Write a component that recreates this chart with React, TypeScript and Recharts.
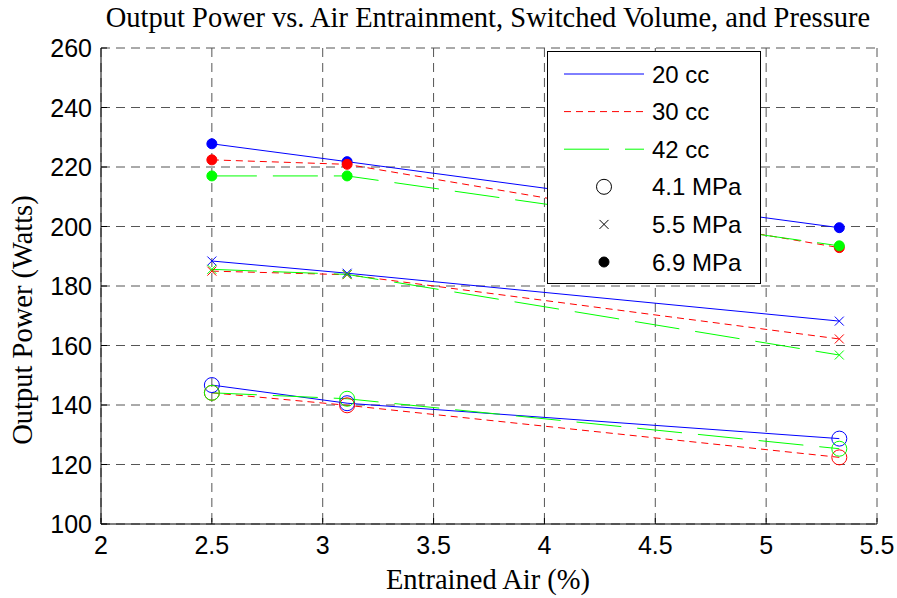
import React from 'react';
import {
  LineChart,
  Line,
  XAxis,
  YAxis,
  CartesianGrid,
  Legend
} from 'recharts';

// entrained air (%) at which all runs were measured
const airPct = [2.5, 3.11, 5.33];

// output power (W) per switched volume and pressure
const p20at41 = [146.7, 140.6, 128.7];
const p30at41 = [144.1, 139.9, 122.4];
const p42at41 = [144.1, 142.1, 125.3];
const p20at55 = [188.4, 184.3, 168.2];
const p30at55 = [185.0, 183.8, 162.2];
const p42at55 = [185.6, 183.9, 156.8];
const p20at69 = [227.8, 221.8, 199.6];
const p30at69 = [222.4, 220.9, 192.9];
const p42at69 = [217.0, 217.0, 193.5];

const xTicks = [2, 2.5, 3, 3.5, 4, 4.5, 5, 5.5];
const yTicks = [100, 120, 140, 160, 180, 200, 220, 240, 260];

const volumeLabels = ['20 cc', '30 cc', '42 cc'];
const pressureLabels = ['4.1 MPa', '5.5 MPa', '6.9 MPa'];

type MarkerKind = 'circle' | 'cross' | 'dot';

const volumeStyles = [
  { color: '#0000ff', dash: undefined as string | undefined },
  { color: '#ff0000', dash: '7 5' },
  { color: '#00ff00', dash: '45 16' },
];
const pressureMarkers: MarkerKind[] = ['circle', 'cross', 'dot'];

const seriesList = [
  { key: 'p20at41', values: p20at41, vol: 0, pres: 0 },
  { key: 'p30at41', values: p30at41, vol: 1, pres: 0 },
  { key: 'p42at41', values: p42at41, vol: 2, pres: 0 },
  { key: 'p20at55', values: p20at55, vol: 0, pres: 1 },
  { key: 'p30at55', values: p30at55, vol: 1, pres: 1 },
  { key: 'p42at55', values: p42at55, vol: 2, pres: 1 },
  { key: 'p20at69', values: p20at69, vol: 0, pres: 2 },
  { key: 'p30at69', values: p30at69, vol: 1, pres: 2 },
  { key: 'p42at69', values: p42at69, vol: 2, pres: 2 },
];

const rows = airPct.map((x, i) => {
  const row: Record<string, number> = { x };
  seriesList.forEach((s) => {
    row[s.key] = s.values[i];
  });
  return row;
});

const SANS = '"Liberation Sans", Arial, sans-serif';
const SERIF = '"Liberation Serif", "Times New Roman", serif';

const Marker = ({ kind, cx, cy, color }: { kind: MarkerKind; cx: number; cy: number; color: string }) => {
  if (kind === 'circle') {
    return <circle cx={cx} cy={cy} r={7.5} fill="none" stroke={color} strokeWidth={1} />;
  }
  if (kind === 'cross') {
    const d = 4.5;
    return (
      <g stroke={color} strokeWidth={1}>
        <line x1={cx - d} y1={cy - d} x2={cx + d} y2={cy + d} />
        <line x1={cx - d} y1={cy + d} x2={cx + d} y2={cy - d} />
      </g>
    );
  }
  return <circle cx={cx} cy={cy} r={5} fill={color} stroke={color} />;
};

const BottomTick = (props: any) => {
  const { x, y, payload } = props;
  return (
    <g>
      <line x1={x} y1={y} x2={x} y2={y - 6} stroke="#000" />
      <text x={x} y={y + 30} textAnchor="middle" fontSize={25} fontFamily={SANS} fill="#000">
        {payload.value}
      </text>
    </g>
  );
};

const TopTick = (props: any) => {
  const { x, y } = props;
  return <line x1={x} y1={y} x2={x} y2={y + 6} stroke="#000" />;
};

const LeftTick = (props: any) => {
  const { x, y, payload } = props;
  return (
    <g>
      <line x1={x} y1={y} x2={x + 6} y2={y} stroke="#000" />
      <text x={x - 9} y={y + 9} textAnchor="end" fontSize={25} fontFamily={SANS} fill="#000">
        {payload.value}
      </text>
    </g>
  );
};

const RightTick = (props: any) => {
  const { x, y } = props;
  return <line x1={x} y1={y} x2={x - 6} y2={y} stroke="#000" />;
};

const LegendBox = () => {
  const rowY = (i: number) => 22 + i * 37.6;
  return (
    <div
      style={{
        width: 212,
        height: 231,
        border: '1.5px solid #000',
        background: '#fff',
      }}
    >
      <svg width={212} height={231}>
        {volumeLabels.map((label, i) => (
          <g key={label}>
            <line
              x1={16}
              x2={96}
              y1={rowY(i)}
              y2={rowY(i)}
              stroke={volumeStyles[i].color}
              strokeDasharray={volumeStyles[i].dash}
            />
            <text x={104} y={rowY(i) + 8.5} fontSize={24} fontFamily={SANS} fill="#000">
              {label}
            </text>
          </g>
        ))}
        {pressureLabels.map((label, i) => (
          <g key={label}>
            <Marker kind={pressureMarkers[i]} cx={56} cy={rowY(i + 3)} color="#000" />
            <text x={104} y={rowY(i + 3) + 8.5} fontSize={24} fontFamily={SANS} fill="#000">
              {label}
            </text>
          </g>
        ))}
      </svg>
    </div>
  );
};

export default function App() {
  return (
    <div style={{ position: 'absolute', left: 0, top: 0, width: 897, height: 598, background: '#fff' }}>
      <div
        style={{
          position: 'absolute',
          left: 0,
          width: 976,
          top: 1,
          textAlign: 'center',
          fontFamily: SERIF,
          fontSize: 28.5,
          lineHeight: '33px',
          color: '#000',
          whiteSpace: 'nowrap',
        }}
      >
        Output Power vs. Air Entrainment, Switched Volume, and Pressure
      </div>
      <div
        style={{
          position: 'absolute',
          left: 0,
          width: 976,
          top: 563,
          textAlign: 'center',
          fontFamily: SERIF,
          fontSize: 28.5,
          lineHeight: '33px',
          color: '#000',
          whiteSpace: 'nowrap',
        }}
      >
        Entrained Air (%)
      </div>
      <div
        style={{
          position: 'absolute',
          left: 22,
          top: 320,
          transform: 'translate(-50%, -50%) rotate(-90deg)',
          fontFamily: SERIF,
          fontSize: 28.5,
          lineHeight: '33px',
          color: '#000',
          whiteSpace: 'nowrap',
        }}
      >
        Output Power (Watts)
      </div>
      <LineChart
        width={897}
        height={598}
        data={rows}
        margin={{ top: 48, right: 20, bottom: 44, left: 41 }}
        style={{ position: 'absolute', left: 0, top: 0 }}
      >
        <CartesianGrid stroke="#555" strokeDasharray="9 6" />
        <XAxis
          dataKey="x"
          type="number"
          domain={[2, 5.5]}
          ticks={xTicks}
          height={30}
          stroke="#000"
          tickSize={0}
          tickMargin={0}
          tick={<BottomTick />}
          interval={0}
        />
        <XAxis
          xAxisId="top"
          orientation="top"
          dataKey="x"
          type="number"
          domain={[2, 5.5]}
          ticks={xTicks}
          height={0}
          stroke="#000"
          tickSize={0}
          tickMargin={0}
          tick={<TopTick />}
          interval={0}
        />
        <YAxis
          type="number"
          domain={[100, 260]}
          ticks={yTicks}
          width={60}
          stroke="#000"
          tickSize={0}
          tickMargin={0}
          tick={<LeftTick />}
          interval={0}
        />
        <YAxis
          yAxisId="right"
          orientation="right"
          type="number"
          domain={[100, 260]}
          ticks={yTicks}
          width={0}
          stroke="#000"
          tickSize={0}
          tickMargin={0}
          tick={<RightTick />}
          interval={0}
        />
        <Legend
          layout="horizontal"
          verticalAlign="middle"
          align="center"
          content={<LegendBox />}
          wrapperStyle={{ position: 'absolute', left: 547, top: 51, width: 'auto' }}
        />
        {seriesList.map((s) => {
          const style = volumeStyles[s.vol];
          const kind = pressureMarkers[s.pres];
          return (
            <Line
              key={s.key}
              dataKey={s.key}
              name={`${volumeLabels[s.vol]} ${pressureLabels[s.pres]}`}
              type="linear"
              stroke={style.color}
              strokeWidth={1}
              strokeDasharray={style.dash}
              isAnimationActive={false}
              dot={(p: any) => (
                <Marker key={`${s.key}-${p.index}`} kind={kind} cx={p.cx} cy={p.cy} color={style.color} />
              )}
              activeDot={false}
            />
          );
        })}
      </LineChart>
    </div>
  );
}
